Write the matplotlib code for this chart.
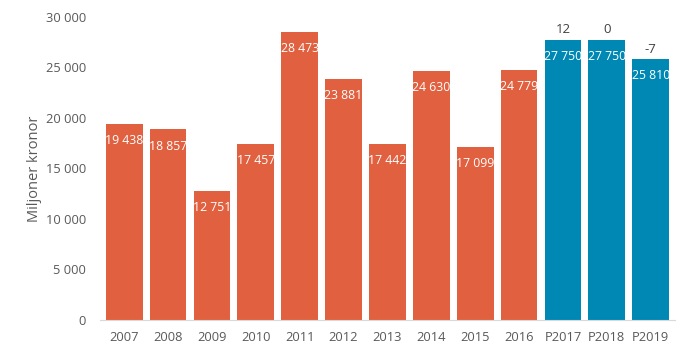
import matplotlib.pyplot as plt
from matplotlib.ticker import FuncFormatter

# data
years = ['2007', '2008', '2009', '2010', '2011', '2012', '2013', '2014',
         '2015', '2016', 'P2017', 'P2018', 'P2019']
values = [19438, 18857, 12751, 17457, 28473, 23881, 17442, 24630,
          17099, 24779, 27750, 27750, 25810]
changes = {'P2017': '12', 'P2018': '0', 'P2019': '-7'}

orange = '#E0603F'
blue = '#0088B4'
grey = '#595959'

plt.rcParams['font.family'] = ['Open Sans', 'DejaVu Sans']

fig = plt.figure(figsize=(6.9, 3.59), dpi=100)
ax = fig.add_axes([0.145, 0.109, 0.833, 0.844])

colors = [blue if y.startswith('P') else orange for y in years]
x = range(len(years))
bars = ax.bar(x, values, width=0.84, color=colors)

def fmt(v):
    return f'{v:,}'.replace(',', ' ')

for b, y, v in zip(bars, years, values):
    cx = b.get_x() + b.get_width() / 2
    ax.annotate(fmt(v), (cx, v), xytext=(0, -12), textcoords='offset points',
                ha='center', va='center', color='white', fontsize=8.8)
    if y in changes:
        ax.annotate(changes[y], (cx, v), xytext=(0, 7), textcoords='offset points',
                    ha='center', va='center', color='#404040', fontsize=9.5)

ax.set_xlim(-0.55, len(years) - 0.45)
ax.set_ylim(0, 30000)
ax.set_yticks(range(0, 30001, 5000))
ax.yaxis.set_major_formatter(FuncFormatter(lambda v, p: fmt(int(v))))
ax.set_xticks(list(x))
ax.set_xticklabels(years)
ax.tick_params(axis='both', length=0, colors=grey, labelsize=9.3)
ax.tick_params(axis='x', pad=8)
ax.tick_params(axis='y', pad=10)

for s in ['top', 'right', 'left']:
    ax.spines[s].set_visible(False)
ax.spines['bottom'].set_color('#D9D9D9')

ax.set_ylabel('Miljoner kronor', color=grey, fontsize=10.5, labelpad=3)

fig.savefig('out.png', dpi=100)
